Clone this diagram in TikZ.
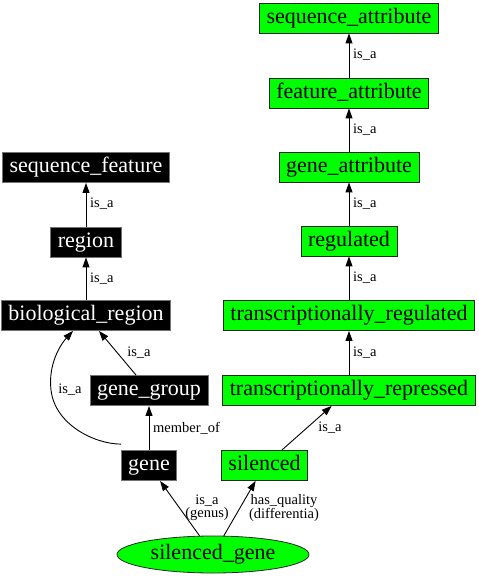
\documentclass[tikz,border=0pt]{standalone}
\usepackage{fontspec}
\setmainfont{Liberation Serif}
\newfontfamily\tfont{Liberation Serif}
\usetikzlibrary{arrows.meta,shapes.geometric}
\definecolor{ggreen}{RGB}{0,255,0}
\begin{document}
\begin{tikzpicture}[x=1pt,y=-1pt,
  base/.style={rectangle,font=\tfont\fontsize{22}{24}\selectfont,inner xsep=7pt,inner ysep=0pt,
    minimum height=30pt,text height=15pt,text depth=5pt,line width=0.8pt},
  blk/.style={base,fill=black,draw=black!55,text=white},
  grn/.style={base,fill=ggreen,draw=black!85,text=black},
  lbl/.style={font=\tfont\fontsize{14.5}{13}\selectfont,inner sep=0pt,align=center},
  edge/.style={-{Triangle[length=10pt,width=7pt]},line width=0.9pt,black}
]
\useasboundingbox (0,0) rectangle (479,576);
% right column
\node[grn] (sa) at (349,18) {sequence\_attribute};
\node[grn] (fa) at (349,93) {feature\_attribute};
\node[grn] (ga) at (349,167) {gene\_attribute};
\node[grn] (reg) at (349,241) {regulated};
\node[grn] (tr) at (349,315.5) {transcriptionally\_regulated};
\node[grn] (trp) at (349,390.5) {transcriptionally\_repressed};
\node[grn] (sil) at (264.5,465.5) {silenced};
% left column
\node[blk] (sf) at (86,167.5) {sequence\_feature};
\node[blk] (rg) at (86,242) {region};
\node[blk] (br) at (86,315.5) {biological\_region};
\node[blk] (gg) at (149,390.5) {gene\_group};
\node[blk] (gn) at (149,465.5) {gene};
% bottom
\node[ellipse,draw=black!85,fill=ggreen,line width=0.8pt,minimum width=192pt,minimum height=37pt,
  inner sep=0pt,font=\tfont\fontsize{22}{24}\selectfont,text height=15pt,text depth=5pt] (sg) at (213,554.5) {silenced\_gene};
% edges
\draw[edge] (fa) -- (sa);
\draw[edge] (ga) -- (fa);
\draw[edge] (reg) -- (ga);
\draw[edge] (tr) -- (reg);
\draw[edge] (trp) -- (tr);
\draw[edge] (sil) -- (trp);
\draw[edge] (rg) -- (sf);
\draw[edge] (br) -- (rg);
\draw[edge] (gg) -- (br);
\draw[edge] (gn) -- (gg);
\draw[edge] ([yshift=6pt]gn.north west) .. controls (95,444) and (55,425) .. (51,390)
  .. controls (48,365) and (60,345) .. ([xshift=-13pt]br.south);
\draw[edge] (sg) -- (gn);
\draw[edge] (sg) -- (sil);
% labels
\node[lbl,anchor=west] (l1) at (353,55) {is\_a};
\node[lbl,anchor=west] (l2) at (353,129.5) {is\_a};
\node[lbl,anchor=west] (l3) at (353,203.5) {is\_a};
\node[lbl,anchor=west] (l4) at (353,278) {is\_a};
\node[lbl,anchor=west] (l5) at (353,353) {is\_a};
\node[lbl,anchor=west] (l6) at (90,204) {is\_a};
\node[lbl,anchor=west] (l7) at (90,278.5) {is\_a};
\node[lbl] (l8) at (139,353) {is\_a};
\node[lbl] (l9) at (70,390) {is\_a};
\node[lbl] (l10) at (186.5,428) {member\_of};
\node[lbl] (l11) at (330,428) {is\_a};
\node[lbl] (l12) at (207,508) {is\_a\\(genus)};
\node[lbl] (l13) at (284,508) {has\_quality\\(differentia)};
\end{tikzpicture}
\end{document}
